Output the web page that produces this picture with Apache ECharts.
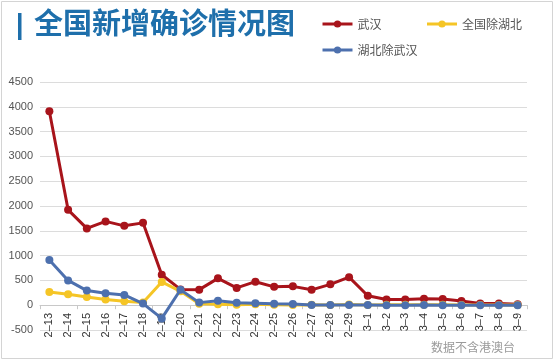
<!DOCTYPE html>
<html><head><meta charset="utf-8">
<script src="https://cdn.jsdelivr.net/npm/echarts@6/dist/echarts.min.js"></script>
<style>html,body{margin:0;padding:0;background:#fff}#c{width:555px;height:361px}</style>
</head><body><div id="c"></div>
<script>
var categories = ['2–13','2–14','2–15','2–16','2–17','2–18','2–19','2–20','2–21','2–22','2–23','2–24','2–25','2–26','2–27','2–28','2–29','3–1','3–2','3–3','3–4','3–5','3–6','3–7','3–8','3–9'];
var wuhan = [3910,1923,1548,1690,1600,1660,615,319,314,541,348,474,370,380,310,420,565,190,114,115,131,126,83,36,36,17];
var otherProv = [267,221,166,115,79,56,470,280,31,18,11,18,11,5,9,4,12,3,8,11,9,11,5,5,3,5];
var hubeiExWuhan = [910,500,295,243,207,33,-266,312,52,89,50,40,30,25,5,3,5,6,0,0,3,0,0,0,0,0];
var yTicks = {min:-500, max:4500, interval:500};
var seriesNames = ['武汉','全国除湖北','湖北除武汉'];
var colors = ['#a8141b','#f5c526','#4d70ae'];

var chart = echarts.init(document.getElementById('c'));
var sdata = [wuhan, otherProv, hubeiExWuhan];
var legendText = {color:'#555', fontSize:12, fontFamily:'"Noto Sans CJK SC", sans-serif'};
chart.setOption({
  animation:false,
  color:colors,
  textStyle:{fontFamily:'"Liberation Sans", Arial, sans-serif'},
  graphic:[
    {type:'rect', shape:{x:1.5,y:1.5,width:551,height:357}, style:{fill:'none',stroke:'#d4d4d4',lineWidth:1}},
    {type:'rect', shape:{x:18,y:13,width:3.5,height:27}, style:{fill:'#1e6fab'}},
    {type:'text', left:34, top:8, style:{text:'全国新增确诊情况图', fill:'#1e6fab', font:'bold 29px "Noto Sans CJK SC", sans-serif'}},
    {type:'text', left:431, top:341, style:{text:'数据不含港澳台', fill:'#9a9a9a', font:'12px "Noto Sans CJK SC", sans-serif'}}
  ],
  legend:[{
    data:[seriesNames[0], seriesNames[1]], left:321, top:18, padding:0, itemWidth:30, itemHeight:9, itemGap:44,
    lineStyle:{width:3}, textStyle:legendText
  },{
    data:[seriesNames[2]], left:321, top:44, padding:0, itemWidth:30, itemHeight:9,
    lineStyle:{width:3}, textStyle:legendText
  }],
  grid:{left:40, right:28, top:82, bottom:31, containLabel:false},
  xAxis:[{
    type:'category', data:categories, boundaryGap:true, position:'bottom',
    axisLine:{onZero:true, lineStyle:{color:'#c8c8c8'}},
    axisTick:{show:true, lineStyle:{color:'#c8c8c8'}, length:4},
    axisLabel:{show:false}
  },{
    type:'category', data:categories, boundaryGap:true, position:'bottom',
    axisLine:{show:false, onZero:false}, axisTick:{show:false}, splitLine:{show:false},
    axisLabel:{rotate:90, color:'#333', fontSize:11, margin:-17, interval:0}
  }],
  yAxis:{
    type:'value', min:yTicks.min, max:yTicks.max, interval:yTicks.interval,
    axisLine:{show:false}, axisTick:{show:false},
    axisLabel:{color:'#555', fontSize:11, margin:7, formatter:function(v){return String(v);}},
    splitLine:{lineStyle:{color:'#dcdcdc'}}
  },
  series: seriesNames.map(function(n,i){
    return {name:n, type:'line', data:sdata[i], xAxisIndex:0, symbol:'circle', symbolSize:8,
      lineStyle:{width:3}, itemStyle:{color:colors[i]}, z:2+i};
  })
});
</script></body></html>
